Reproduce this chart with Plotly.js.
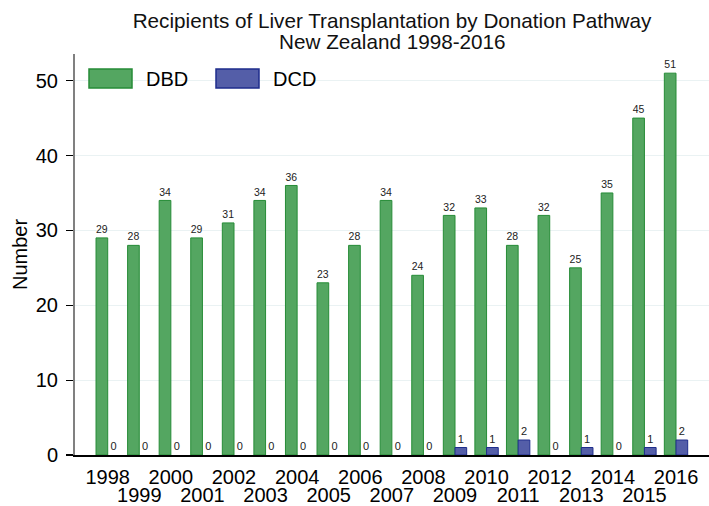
<!DOCTYPE html>
<html>
<head>
<meta charset="utf-8">
<script src="https://cdn.plot.ly/plotly-3.0.1.min.js"></script>
<style>html,body{margin:0;padding:0;background:#fff;}#chart{width:709px;height:506px;}</style>
</head>
<body>
<div id="chart"></div>
<script>
const years = [1998,1999,2000,2001,2002,2003,2004,2005,2006,2007,2008,2009,2010,2011,2012,2013,2014,2015,2016];
const dbd = [29,28,34,29,31,34,36,23,28,34,24,32,33,28,32,25,35,45,51];
const dcd = [0,0,0,0,0,0,0,0,0,0,0,1,1,2,0,1,0,1,2];
const evenLabels = years.map(y => y % 2 === 0 ? String(y) : '');
const oddLabels = years.map(y => y % 2 === 1 ? String(y) : '');
const seriesNames = ['DBD','DCD'];

const green = 'rgb(84,166,97)', greenLine = 'rgb(38,140,55)';
const blue = 'rgb(84,94,168)', blueLine = 'rgb(30,45,140)';
const FONT = 'Arial, Liberation Sans, sans-serif';

const traces = [
  {type:'bar', x:years, y:dbd, name:seriesNames[0],
   marker:{color:green, line:{color:greenLine, width:dbd.map(v => v === 0 ? 0 : 1)}},
   text:dbd.map(String), textposition:'outside', cliponaxis:false,
   textfont:{size:11, color:'#222', family:FONT}, showlegend:false, hoverinfo:'x+y'},
  {type:'bar', x:years, y:dcd, name:seriesNames[1],
   marker:{color:blue, line:{color:blueLine, width:dcd.map(v => v === 0 ? 0 : 1)}},
   text:dcd.map(String), textposition:'outside', cliponaxis:false,
   textfont:{size:11, color:'#222', family:FONT}, showlegend:false, hoverinfo:'x+y'},
  {type:'scatter', x:[years[0]], y:[null], xaxis:'x2', showlegend:false, hoverinfo:'skip'}
];

const W = 709, H = 506;
const L = 75, R = 0, T = 54, B = 50.7;
const pw = W - L - R, ph = H - T - B;
const px = v => (v - L) / pw;
const py = v => (H - B - v) / ph;

const xr = [1996.964, 2017.045];

const layout = {
  width: W, height: H,
  margin: {l:L, r:R, t:T, b:B, pad:0},
  paper_bgcolor:'#fff', plot_bgcolor:'#fff',
  font:{family:FONT, color:'#000', size:20},
  barmode:'group', bargap:0.26, bargroupgap:0,
  title:{text:'Recipients of Liver Transplantation by Donation Pathway', x:0.5, xref:'paper', xanchor:'center',
         y:1 - 21/H, yanchor:'middle', font:{size:20.7, family:FONT, color:'#111'}},
  xaxis:{range:xr, tickvals:years, ticktext:evenLabels, ticks:'', showgrid:false, zeroline:false,
         showline:true, linecolor:'#000', linewidth:1.5, tickfont:{size:20, family:FONT}, ticklabelstandoff:3,
         fixedrange:true},
  xaxis2:{range:xr, overlaying:'x', side:'bottom', anchor:'y', tickvals:years, ticktext:oddLabels, ticks:'',
          showgrid:false, zeroline:false, showline:false, tickfont:{size:20, family:FONT}, ticklabelstandoff:26,
          fixedrange:true},
  yaxis:{range:[0,53.56], tickvals:[0,10,20,30,40,50], ticks:'outside', ticklen:7, tickwidth:1.2, tickcolor:'#000',
         showline:true, linecolor:'#808080', linewidth:2, showgrid:true, gridcolor:'#eaf2f3', gridwidth:1,
         zeroline:false, tickfont:{size:20, family:FONT}, ticklabelstandoff:4,
         title:{text:'Number', font:{size:20, family:FONT}, standoff:3}, fixedrange:true},
  shapes:[
    {type:'rect', xref:'paper', yref:'paper', x0:px(89), x1:px(132), y0:py(88), y1:py(69),
     fillcolor:green, line:{color:greenLine, width:1.5}},
    {type:'rect', xref:'paper', yref:'paper', x0:px(216), x1:px(259), y0:py(88), y1:py(69),
     fillcolor:blue, line:{color:blueLine, width:1.5}}
  ],
  annotations:[
    {text:'New Zealand 1998-2016', xref:'paper', yref:'paper', x:0.5, y:1 + (T - 41)/ph, xanchor:'center', yanchor:'middle',
     showarrow:false, font:{size:20.7, family:FONT, color:'#111'}},
    {text:seriesNames[0], xref:'paper', yref:'paper', x:px(144), y:py(79), xanchor:'left', yanchor:'middle',
     showarrow:false, font:{size:20, family:FONT, color:'#000'}},
    {text:seriesNames[1], xref:'paper', yref:'paper', x:px(271), y:py(79), xanchor:'left', yanchor:'middle',
     showarrow:false, font:{size:20, family:FONT, color:'#000'}}
  ],
  showlegend:false
};

Plotly.newPlot('chart', traces, layout, {displayModeBar:false, staticPlot:true});
</script>
</body>
</html>
